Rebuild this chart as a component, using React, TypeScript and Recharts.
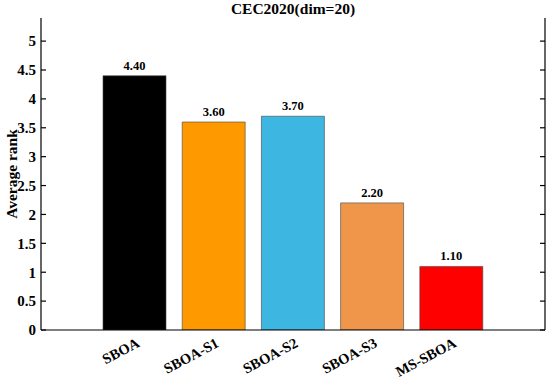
import React from 'react';
import { BarChart, Bar, XAxis, YAxis, Cell, LabelList } from 'recharts';

const algorithms = ['SBOA', 'SBOA-S1', 'SBOA-S2', 'SBOA-S3', 'MS-SBOA'];
const avgRank = [4.4, 3.6, 3.7, 2.2, 1.1];
const barColors = ['#000000', '#FF9900', '#3DB7E2', '#EF964A', '#FF0000'];
const yTicks = [0, 0.5, 1, 1.5, 2, 2.5, 3, 3.5, 4, 4.5, 5];

const FONT = "'Times New Roman', 'Liberation Serif', serif";

const chartData = algorithms.map((name, i) => ({ name, rank: avgRank[i] }));

// category name under each bar, rotated like the matlab xticklabels
const renderNameLabel = (props: any) => {
  const { x, y, width, height, value } = props;
  const ax = Number(x) + Number(width) / 2 + 6;
  const ay = Number(y) + Number(height) + 16;
  return (
    <text
      x={ax}
      y={ay}
      transform={`rotate(-28, ${ax}, ${ay})`}
      textAnchor="end"
      fontFamily={FONT}
      fontWeight="bold"
      fontSize={14.5}
      fill="#000"
    >
      {value}
    </text>
  );
};

const renderYLabel = () => (
  <text
    x={17}
    y={174}
    transform="rotate(-90, 17, 174)"
    textAnchor="middle"
    fontFamily={FONT}
    fontWeight="bold"
    fontSize={15.5}
    fill="#000"
  >
    Average rank
  </text>
);

const App: React.FC = () => {
  return (
    <div style={{ position: 'fixed', left: 0, top: 0, width: 550, height: 381, background: '#fff' }}>
      <div
        style={{
          position: 'absolute',
          left: 41,
          width: 504,
          top: 0,
          textAlign: 'center',
          fontFamily: FONT,
          fontWeight: 'bold',
          fontSize: 15.5,
          lineHeight: '18px',
        }}
      >
        CEC2020(dim=20)
      </div>
      <BarChart
        width={550}
        height={381}
        data={chartData}
        margin={{ top: 18, right: 0, bottom: 0, left: 0 }}
      >
        <XAxis
          dataKey="name"
          xAxisId="bottom"
          height={51}
          padding={{ left: 54, right: 54 }}
          tickLine={false}
          tick={false}
          axisLine={{ stroke: '#000', strokeWidth: 1.2 }}
          interval={0}
        />
        <XAxis
          dataKey="name"
          xAxisId="top"
          orientation="top"
          height={0}
          padding={{ left: 54, right: 54 }}
          tickSize={-5}
          tickFormatter={() => ''}
          tickLine={{ stroke: '#000', strokeWidth: 1.2 }}
          axisLine={{ stroke: '#000', strokeWidth: 1.2 }}
          interval={0}
        />
        <YAxis
          yAxisId="left"
          width={41}
          domain={[0, 5.4]}
          ticks={yTicks}
          tickSize={-5}
          tickMargin={10}
          tickLine={{ stroke: '#000', strokeWidth: 1.2 }}
          axisLine={{ stroke: '#000', strokeWidth: 1.2 }}
          tick={{ fill: '#000', fontFamily: FONT, fontWeight: 'bold', fontSize: 15 }}
          allowDataOverflow
          label={{ content: renderYLabel }}
        />
        <YAxis
          yAxisId="right"
          orientation="right"
          width={5}
          domain={[0, 5.4]}
          ticks={yTicks}
          tickSize={-5}
          tickFormatter={() => ''}
          tickLine={{ stroke: '#000', strokeWidth: 1.2 }}
          axisLine={{ stroke: '#000', strokeWidth: 1.2 }}
          allowDataOverflow
        />
        <Bar
          dataKey="rank"
          xAxisId="bottom"
          yAxisId="left"
          barSize={63}
          stroke="#444"
          strokeWidth={0.6}
          isAnimationActive={false}
        >
          {chartData.map((d, i) => (
            <Cell key={d.name} fill={barColors[i]} />
          ))}
          <LabelList
            dataKey="rank"
            position="top"
            offset={6}
            formatter={(v: any) => Number(v).toFixed(2)}
            style={{ fill: '#000', fontFamily: FONT, fontWeight: 'bold', fontSize: 12.5 }}
          />
          <LabelList dataKey="name" content={renderNameLabel} />
        </Bar>
      </BarChart>
    </div>
  );
};

export default App;
